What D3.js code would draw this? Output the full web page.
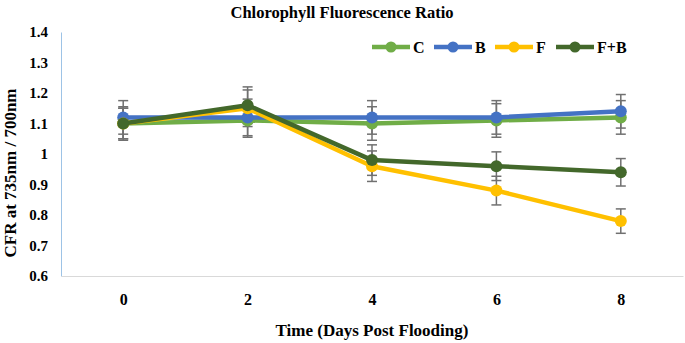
<!DOCTYPE html>
<html>
<head>
<meta charset="utf-8">
<script src="https://cdn.jsdelivr.net/npm/d3@7"></script>
<style>
  body { margin: 0; background: #fff; }
  svg text { font-family: "Liberation Serif", "Times New Roman", serif; font-weight: bold; }
</style>
</head>
<body>
<svg width="685" height="343"></svg>
<script>
// chart data
let days = [0, 2, 4, 6, 8]
let seriesNames = ['C', 'B', 'F', 'F+B']
let cValues = [1.10, 1.11, 1.10, 1.11, 1.12]
let bValues = [1.12, 1.12, 1.12, 1.12, 1.14]
let fValues = [1.10, 1.15, 0.96, 0.88, 0.78]
let fbValues = [1.10, 1.16, 0.98, 0.96, 0.94]
let cErrors = [0.055, 0.055, 0.055, 0.055, 0.055]
let bErrors = [0.055, 0.06, 0.055, 0.055, 0.055]
let fErrors = [0.05, 0.06, 0.05, 0.047, 0.04]
let fbErrors = [0.05, 0.06, 0.05, 0.047, 0.045]
let yTicks = [0.6, 0.7, 0.8, 0.9, 1, 1.1, 1.2, 1.3, 1.4]

let colors = ['#70ad47', '#4472c4', '#ffc000', '#43682b']

let series = [
  { name: seriesNames[0], values: cValues, errors: cErrors, color: colors[0] },
  { name: seriesNames[1], values: bValues, errors: bErrors, color: colors[1] },
  { name: seriesNames[2], values: fValues, errors: fErrors, color: colors[2] },
  { name: seriesNames[3], values: fbValues, errors: fbErrors, color: colors[3] }
]

let svg = d3.select('svg')
let margin = { top: 32, right: 2, bottom: 67, left: 61 }
let width = 685 - margin.left - margin.right
let height = 343 - margin.top - margin.bottom

let g = svg.append('g')
  .attr('transform', `translate(${margin.left}, ${margin.top})`)

let x = d3.scalePoint()
  .domain(days)
  .range([0, width])
  .padding(0.5)

let y = d3.scaleLinear()
  .domain([0.6, 1.4])
  .range([height, 0])

// title
svg.append('text')
  .attr('x', 342)
  .attr('y', 18)
  .attr('text-anchor', 'middle')
  .style('font-size', '16.5px')
  .text('Chlorophyll Fluorescence Ratio')

// axes
let yAxis = g.append('g')
  .call(d3.axisLeft(y).tickValues(yTicks).tickSize(0).tickPadding(13).tickFormat(d3.format('')))
yAxis.select('.domain').attr('stroke', '#9dc3e6')
yAxis.selectAll('text').style('font-size', '15px').attr('fill', '#000')

let xAxis = g.append('g')
  .attr('transform', `translate(0, ${height})`)
  .call(d3.axisBottom(x).tickSize(0).tickPadding(18))
xAxis.select('.domain').attr('stroke', '#d9d9d9')
xAxis.selectAll('text').style('font-size', '16px').attr('fill', '#000')

svg.append('text')
  .attr('x', 372)
  .attr('y', 336)
  .attr('text-anchor', 'middle')
  .style('font-size', '17px')
  .text('Time (Days Post Flooding)')

svg.append('text')
  .attr('transform', 'translate(16, 173) rotate(-90)')
  .attr('text-anchor', 'middle')
  .style('font-size', '17px')
  .text('CFR at 735nm / 700nm')

// error bars
let cap = 5
series.forEach((s) => {
  let eb = g.append('g').attr('stroke', '#707070').attr('stroke-width', 1.5)
  s.values.forEach((v, i) => {
    let cx = x(days[i])
    let hi = y(v + s.errors[i])
    let lo = y(v - s.errors[i])
    eb.append('line').attr('x1', cx).attr('x2', cx).attr('y1', hi).attr('y2', lo)
    eb.append('line').attr('x1', cx - cap).attr('x2', cx + cap).attr('y1', hi).attr('y2', hi)
    eb.append('line').attr('x1', cx - cap).attr('x2', cx + cap).attr('y1', lo).attr('y2', lo)
  })
})

// lines and markers
let line = d3.line()
  .x((d, i) => x(days[i]))
  .y((d) => y(d))

series.forEach((s) => {
  g.append('path')
    .datum(s.values)
    .attr('fill', 'none')
    .attr('stroke', s.color)
    .attr('stroke-width', 4.5)
    .attr('stroke-linejoin', 'round')
    .attr('d', line)
  g.selectAll(null)
    .data(s.values)
    .enter()
    .append('circle')
    .attr('cx', (d, i) => x(days[i]))
    .attr('cy', (d) => y(d))
    .attr('r', 6)
    .attr('fill', s.color)
})

// legend
let legendX = [372, 434, 495, 556]
let legend = svg.append('g').attr('transform', 'translate(0, 47)')
series.forEach((s, i) => {
  let lg = legend.append('g').attr('transform', `translate(${legendX[i]}, 0)`)
  lg.append('line')
    .attr('x1', 0).attr('x2', 38)
    .attr('stroke', s.color).attr('stroke-width', 4.5)
  lg.append('circle').attr('cx', 19).attr('r', 5.5).attr('fill', s.color)
  lg.append('text')
    .attr('x', 41)
    .attr('y', 6)
    .style('font-size', '16px')
    .text(s.name)
})
</script>
</body>
</html>
